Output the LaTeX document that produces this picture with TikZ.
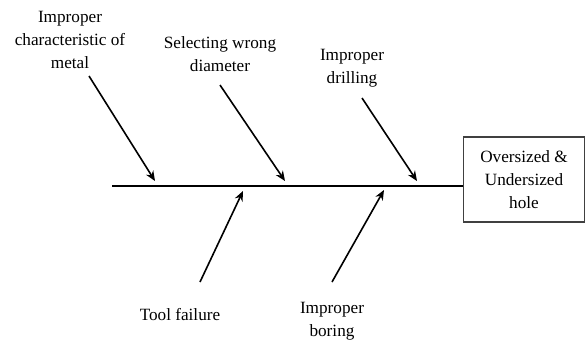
\documentclass[tikz,border=0pt]{standalone}
\usepackage{fontspec}
\setmainfont{Liberation Serif}
\usetikzlibrary{arrows.meta}
\begin{document}
\begin{tikzpicture}[x=0.5pt,y=-0.5pt,
  lbl/.style={align=center,font=\fontsize{8.6}{11.5}\selectfont,inner sep=0pt},
  bone/.style={line width=0.8pt,-{Stealth[length=5pt,width=4.2pt]}},
  spine/.style={line width=1.2pt},
  effectbox/.style={draw=black!75,line width=0.55pt,minimum width=60.5pt,minimum height=42.5pt,align=center,font=\fontsize{8.6}{11.5}\selectfont,inner sep=0pt}]
\useasboundingbox (0,0) rectangle (585,344);
% effect box and spine
\node[effectbox] (eff) at (524,179.5) {Oversized \&\\Undersized\\hole};
\coordinate (tail) at (112,186);
\draw[spine] (tail) -- (eff.west |- tail);
% labels
\node[lbl] (c1) at (70,40) {Improper\\characteristic of\\metal};
\node[lbl] (c2) at (220,54) {Selecting wrong\\diameter};
\node[lbl] (c3) at (352,68.5) {Improper\\drilling};
\node[lbl] (c4) at (180,315) {Tool failure};
\node[lbl] (c5) at (332,321.5) {Improper\\boring};
% arrow ends
\coordinate (s1) at (89,76);   \coordinate (e1) at (155,181);
\coordinate (s2) at (220,85);  \coordinate (e2) at (285,181);
\coordinate (s3) at (362,98);  \coordinate (e3) at (417,181);
\coordinate (s4) at (200,282); \coordinate (e4) at (243,191);
\coordinate (s5) at (332,282); \coordinate (e5) at (384,190);
\draw[bone] (s1) -- (e1);
\draw[bone] (s2) -- (e2);
\draw[bone] (s3) -- (e3);
\draw[bone] (s4) -- (e4);
\draw[bone] (s5) -- (e5);
\end{tikzpicture}
\end{document}
